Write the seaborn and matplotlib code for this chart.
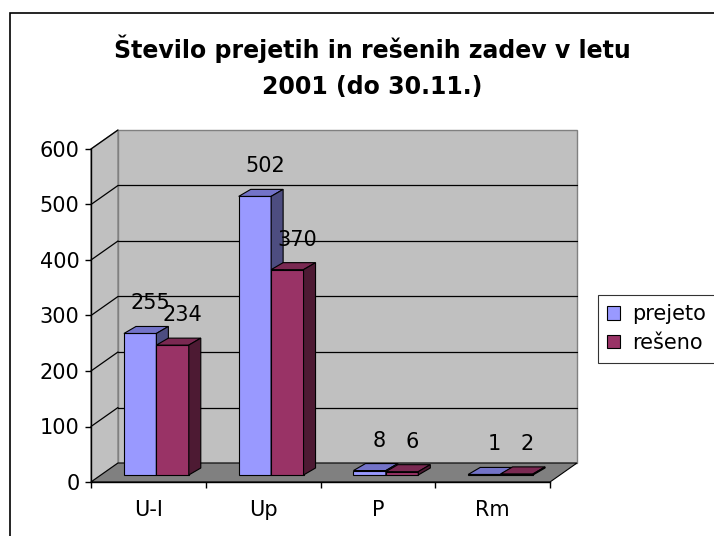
import matplotlib
matplotlib.use("Agg")
import matplotlib.pyplot as plt
import matplotlib.transforms as mtransforms
from matplotlib.patches import Polygon, Rectangle
import seaborn as sns
import pandas as pd

categories = ["U-I", "Up", "P", "Rm"]
prejeto = [255, 502, 8, 1]
reseno = [234, 370, 6, 2]
series = ["prejeto", "rešeno"]
yticks = [0, 100, 200, 300, 400, 500, 600]
title = "Število prejetih in rešenih zadev v letu\n2001 (do 30.11.)"

front_colors = ["#9999FF", "#993366"]
top_colors = ["#7373C8", "#7A2952"]
side_colors = ["#4D4D80", "#4D1A33"]

df = pd.DataFrame({
    "kategorija": categories * 2,
    "zadeve": prejeto + reseno,
    "vrsta": [series[0]] * len(categories) + [series[1]] * len(categories),
})

W, H, DPI = 714, 536, 100
sns.set_style("white")
plt.rcParams["font.family"] = ["DejaVu Sans"]
plt.rcParams.update({"text.color": "black", "xtick.color": "black",
                     "ytick.color": "black", "axes.labelcolor": "black"})

fig = plt.figure(figsize=(W / DPI, H / DPI), dpi=DPI)
fig.patch.set_facecolor("white")
# front plane of the 3d box, in pixels: x 91..550, y 149..482
ax = fig.add_axes([91 / W, (H - 482) / H, 459 / W, 333 / H])

sns.barplot(data=df, x="kategorija", y="zadeve", hue="vrsta",
            palette=front_colors, saturation=1, width=0.565, gap=0,
            edgecolor="black", linewidth=0.8, legend=False, ax=ax)

ax.set_xlim(-0.5, len(categories) - 0.5)
ax.set_ylim(0, 600)
xpp = len(categories) / 459.0
ypp = 600 / 333.0


def shift(dx, dy):
    return ax.transData + mtransforms.ScaledTranslation(dx / DPI, dy / DPI, fig.dpi_scale_trans)


x0, x1 = ax.get_xlim()
y0, y1 = ax.get_ylim()
wx, wy = 27 * xpp, 19 * ypp  # wall depth

# back wall, side wall, floor
ax.add_patch(Polygon([(x0, y0), (x1, y0), (x1, y1), (x0, y1)], closed=True,
                     fc="#C0C0C0", ec="#808080", lw=1, zorder=0.2,
                     transform=shift(27, 19), clip_on=False))
ax.add_patch(Polygon([(x0, y0), (x0, y1), (x0 + wx, y1 + wy), (x0 + wx, y0 + wy)],
                     closed=True, fc="#C0C0C0", ec="#808080", lw=1, zorder=0.2,
                     clip_on=False))
ax.add_patch(Polygon([(x0, y0), (x1, y0), (x1 + wx, y0 + wy), (x0 + wx, y0 + wy)],
                     closed=True, fc="#808080", ec="black", lw=0.8, zorder=0.3,
                     clip_on=False))
for t in yticks[1:-1]:
    ax.plot([x0, x1], [t, t], color="black", lw=0.9, zorder=0.25,
            transform=shift(27, 19), clip_on=False)
for t in yticks[1:]:
    ax.plot([x0, x0 + wx], [t, t + wy], color="black", lw=0.9, zorder=0.25,
            clip_on=False)

# 3d bars: shift fronts back a bit, add top and side faces
bdx, bdy = 12 * xpp, 7 * ypp
for i, cont in enumerate(ax.containers):
    for bar, val in zip(cont.patches, cont.datavalues):
        bx, bw, bh = bar.get_x(), bar.get_width(), bar.get_height()
        bar.set_transform(shift(8, 7))
        bar.set_zorder(3 + i)
        bar.set_clip_on(False)
        top = [(bx, bh), (bx + bw, bh), (bx + bw + bdx, bh + bdy), (bx + bdx, bh + bdy)]
        side = [(bx + bw, 0), (bx + bw, bh), (bx + bw + bdx, bh + bdy), (bx + bw + bdx, bdy)]
        ax.add_patch(Polygon(top, closed=True, fc=top_colors[i], ec="black", lw=0.8,
                             zorder=3 + i, transform=shift(8, 7), clip_on=False))
        ax.add_patch(Polygon(side, closed=True, fc=side_colors[i], ec="black", lw=0.8,
                             zorder=3 + i, transform=shift(8, 7), clip_on=False))
        ax.text(bx + bw / 2, val, f"{val:.0f}", fontsize=15, ha="center", va="center",
                transform=shift(18, 37), zorder=6, clip_on=False)

sns.despine(ax=ax)
for s in ["left", "bottom"]:
    ax.spines[s].set_color("black")
    ax.spines[s].set_linewidth(1)
    ax.spines[s].set_zorder(2)

ax.set_yticks(yticks)
ax.tick_params(axis="y", length=4.3, width=1, direction="out", labelsize=15, pad=4,
               color="black", labelcolor="black", left=True)
ax.set_xticks([c - 0.5 for c in range(len(categories) + 1)],
              labels=[""] * (len(categories) + 1))
ax.set_xticks(range(len(categories)), labels=categories, minor=True)
ax.tick_params(axis="x", which="major", length=4.3, width=1, direction="out",
               color="black", bottom=True)
ax.tick_params(axis="x", which="minor", length=0, labelsize=15, pad=13,
               labelcolor="black")
ax.set_xlabel("")
ax.set_ylabel("")
ax.set_facecolor("none")

handles = [Rectangle((0, 0), 1, 1, fc=c, ec="black", lw=0.8) for c in front_colors]
leg = ax.legend(handles=handles, labels=series, loc="upper left",
                bbox_to_anchor=(598 / W, (H - 295) / H), bbox_transform=fig.transFigure,
                fontsize=15, frameon=True, fancybox=False, edgecolor="black",
                handlelength=0.6, handleheight=0.6, handletextpad=0.6,
                labelspacing=0.42, borderpad=0.45, borderaxespad=0)
leg.get_frame().set_linewidth(0.8)
for txt in leg.get_texts():
    txt.set_color("black")

fig.text(372 / W, (H - 67) / H, title, ha="center", va="center", fontsize=17,
         fontweight="bold", linespacing=1.65, color="black")

fig.add_artist(Rectangle((10 / W, -0.05), 1.2, (H - 13) / H + 0.05,
                         transform=fig.transFigure, fill=False, ec="black", lw=1.2))

fig.savefig("out.png", dpi=DPI)
